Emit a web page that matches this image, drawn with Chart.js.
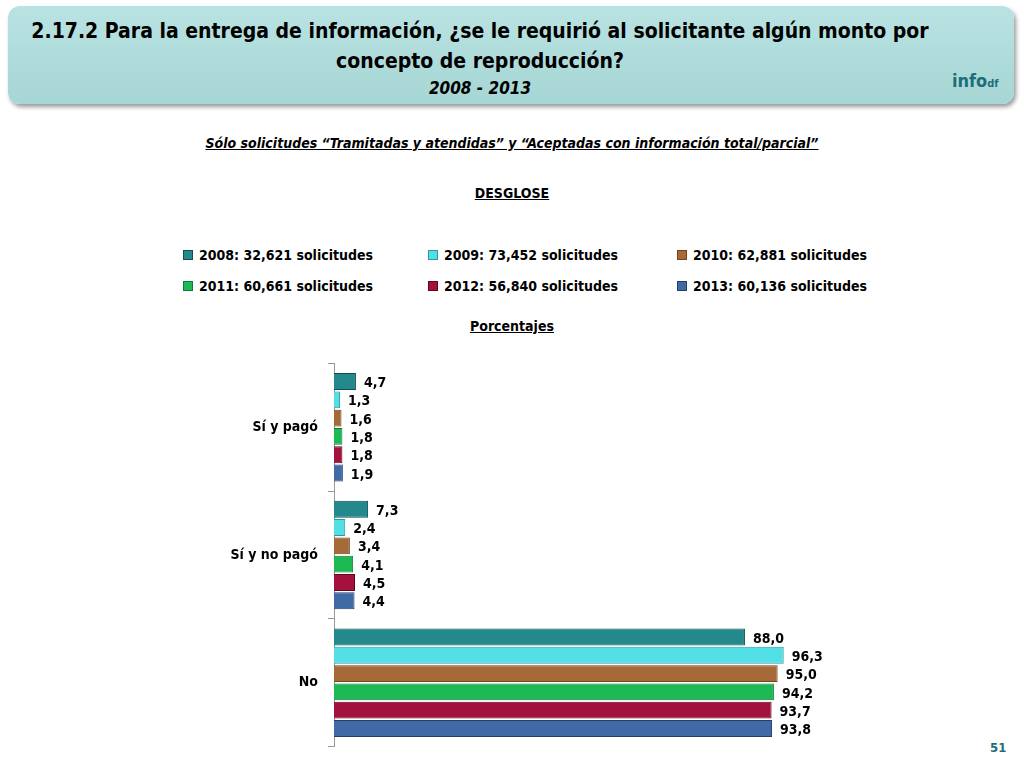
<!DOCTYPE html>
<html>
<head>
<meta charset="utf-8">
<script src="https://cdn.jsdelivr.net/npm/chart.js@4"></script>
<style>
  body { margin: 0; width: 1024px; height: 768px; background: #fff; position: relative; overflow: hidden;
         font-family: "DejaVu Sans Condensed", "Open Sans", sans-serif; color: #000; }
  .header { position: absolute; left: 8px; top: 6px; width: 1006px; height: 98px; border-radius: 12px;
            background: linear-gradient(#b9e3e2, #a6d6d5); box-shadow: 2px 3px 4px #999; }
  .title { position: absolute; left: 10px; width: 940px; top: 16px; text-align: center; font-weight: bold; font-size: 21px; line-height: 30px; }
  .years { position: absolute; left: 10px; width: 940px; top: 78px; text-align: center; font-weight: bold; font-style: italic; font-size: 17px; }
  .logo { position: absolute; left: 952px; top: 70px; font-weight: bold; font-size: 18px; color: #1c6f78; }
  .txt { position: absolute; left: 0; width: 1024px; text-align: center; font-weight: bold; font-size: 14px; text-decoration: underline; }
  .leg { position: absolute; font-weight: bold; font-size: 14px; }
  .leg span { display: inline-block; width: 8px; height: 8px; margin-right: 6px; }
  .page { position: absolute; left: 990px; top: 740px; font-weight: bold; font-size: 13px; color: #1c6f78; }
  #wrap { position: absolute; left: 0; top: 345px; width: 1024px; height: 420px; }
</style>
</head>
<body>
<div class="header"></div>
<div class="title">2.17.2 Para la entrega de información, ¿se le requirió al solicitante algún monto por concepto de reproducción?</div>
<div class="years">2008 - 2013</div>
<div class="logo">info<span style="font-size:11px">df</span></div>
<div class="txt" style="top:135px;font-style:italic">Sólo solicitudes “Tramitadas y atendidas” y “Aceptadas con información total/parcial”</div>
<div class="txt" style="top:185px">DESGLOSE</div>
<div class="txt" style="top:318px">Porcentajes</div>
<div id="legend"></div>
<div class="page">51</div>
<div id="wrap"><canvas id="grafico"></canvas></div>
<script>
// datos
const CATEGORIAS = ["Sí y pagó", "Sí y no pagó", "No"];
const SERIES = [
  "2008: 32,621 solicitudes", "2009: 73,452 solicitudes", "2010: 62,881 solicitudes",
  "2011: 60,661 solicitudes", "2012: 56,840 solicitudes", "2013: 60,136 solicitudes",
];
const v2008 = [4.7, 7.3, 88.0];
const v2009 = [1.3, 2.4, 96.3];
const v2010 = [1.6, 3.4, 95.0];
const v2011 = [1.8, 4.1, 94.2];
const v2012 = [1.8, 4.5, 93.7];
const v2013 = [1.9, 4.4, 93.8];
const VALORES = [v2008, v2009, v2010, v2011, v2012, v2013];

const COLORES = ["#23898c", "#52dfe6", "#a66a38", "#1cb955", "#a3113c", "#3f6aa6"];
const BORDES = ["#0f4f52", "#2a9aa0", "#6e4320", "#0f7a35", "#600820", "#243f66"];
const FUENTE = "'DejaVu Sans Condensed', 'Open Sans', sans-serif";

// leyenda html
const legend = document.getElementById("legend");
const posX = [183, 428, 677];
SERIES.forEach((s, i) => {
  const d = document.createElement("div");
  d.className = "leg";
  d.style.left = posX[i % 3] + "px";
  d.style.top = (i < 3 ? 247 : 278) + "px";
  d.innerHTML = `<span style="background:${COLORES[i]};border:1px solid ${BORDES[i]}"></span>${s}`;
  legend.appendChild(d);
});

const etiquetas = {
  id: "etiquetas",
  afterDatasetsDraw(chart) {
    const { ctx } = chart;
    ctx.save();
    ctx.font = "bold 14px " + FUENTE;
    ctx.fillStyle = "#000";
    ctx.textBaseline = "middle";
    chart.data.datasets.forEach((ds, i) => {
      chart.getDatasetMeta(i).data.forEach((bar, j) => {
        ctx.fillText(ds.data[j].toFixed(1).replace(".", ","), bar.x + 8, bar.y + 2);
      });
    });
    ctx.restore();
  },
};

new Chart(document.getElementById("grafico"), {
  type: "bar",
  data: {
    labels: CATEGORIAS,
    datasets: SERIES.map((s, i) => ({
      label: s,
      data: VALORES[i],
      backgroundColor: COLORES[i],
      borderColor: BORDES[i],
      borderWidth: 1,
      barPercentage: 0.92,
      categoryPercentage: 0.86,
    })),
  },
  options: {
    indexAxis: "y",
    responsive: true,
    maintainAspectRatio: false,
    animation: false,
    layout: { padding: { top: 5, bottom: 6, right: 223 } },
    plugins: { legend: { display: false }, tooltip: { enabled: false } },
    scales: {
      x: { display: false, min: 0, max: 100 },
      y: {
        afterFit: (s) => { s.width = 334; },
        border: { color: "#999" },
        grid: { drawOnChartArea: false, offset: true, tickLength: 6, color: "#999" },
        ticks: { color: "#000", padding: 10, font: { family: FUENTE, size: 14, weight: "bold" } },
      },
    },
  },
  plugins: [etiquetas],
});
</script>
</body>
</html>
